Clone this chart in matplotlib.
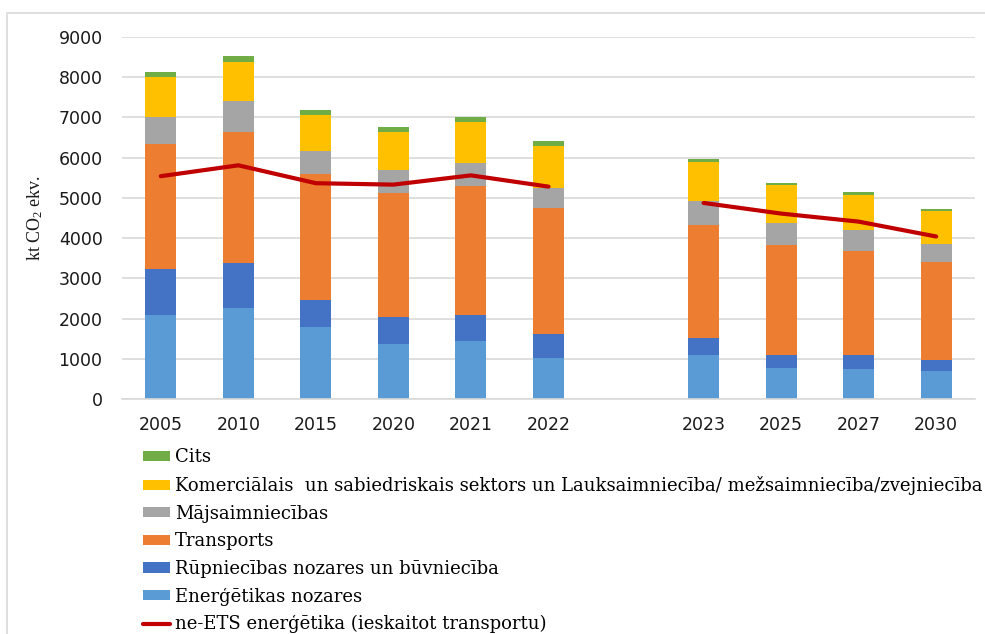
import matplotlib
matplotlib.use("Agg")
import matplotlib.pyplot as plt
from matplotlib.patches import Rectangle
import numpy as np

years = ["2005", "2010", "2015", "2020", "2021", "2022", "", "2023", "2025", "2027", "2030"]

# kt CO2 ekv. per sector (blank slot between 2022 and 2023)
energetika = [2080, 2256, 1785, 1355, 1438, 1008, np.nan, 1083, 775, 733, 700]
rupnieciba = [1160, 1116, 686, 686, 645, 604, np.nan, 434, 308, 350, 258]
transports = [3100, 3264, 3132, 3091, 3215, 3132, np.nan, 2816, 2734, 2600, 2459]
majsaimn = [680, 769, 562, 562, 562, 512, np.nan, 600, 558, 525, 433]
komerc = [990, 983, 893, 942, 1033, 1033, np.nan, 959, 950, 859, 825]
cits = [130, 133, 132, 124, 124, 132, np.nan, 83, 50, 91, 42]
ne_ets = [5540, 5810, 5365, 5330, 5560, 5280, np.nan, 4875, 4610, 4410, 4040]

series = [
    ("Enerģētikas nozares", energetika, "#5b9bd5"),
    ("Rūpniecības nozares un būvniecība", rupnieciba, "#4472c4"),
    ("Transports", transports, "#ed7d31"),
    ("Mājsaimniecības", majsaimn, "#a5a5a5"),
    ("Komerciālais  un sabiedriskais sektors un Lauksaimniecība/ mežsaimniecība/zvejniecība", komerc, "#ffc000"),
    ("Cits", cits, "#70ad47"),
]

plt.rcParams["mathtext.default"] = "regular"

fig = plt.figure(figsize=(9.85, 6.34), dpi=100)
ax = fig.add_axes([0.1239, 0.3707, 0.8659, 0.5709])

x = np.arange(len(years))
bottom = np.zeros(len(years))
handles = []
for label, vals, color in series:
    v = np.nan_to_num(np.array(vals, dtype=float))
    b = ax.bar(x, v, 0.4, bottom=bottom, color=color, label=label, zorder=2)
    handles.append(b)
    bottom += v

ln, = ax.plot(x[:6], ne_ets[:6], color="#c00000", lw=3, zorder=3, solid_capstyle="round",
              label="ne-ETS enerģētika (ieskaitot transportu)")
ax.plot(x[7:], ne_ets[7:], color="#c00000", lw=3, zorder=3, solid_capstyle="round")

ax.set_xlim(-0.5, len(years) - 0.5)
ax.set_ylim(0, 9000)
ax.set_yticks(np.arange(0, 9001, 1000))
ax.set_xticks([i for i in x if years[i]])
ax.set_xticklabels([y for y in years if y])
ax.grid(axis="y", color="#d9d9d9", lw=1.2, zorder=0)
ax.tick_params(length=0, labelsize=12.5, colors="#1a1a1a")
ax.tick_params(axis="x", pad=12)
ax.tick_params(axis="y", pad=14)
for s in ["top", "right", "left"]:
    ax.spines[s].set_visible(False)
ax.spines["bottom"].set_color("#d9d9d9")
ax.spines["bottom"].set_linewidth(1.2)

fig.text(0.036, 0.656, "kt CO$_2$ ekv.", rotation=90, family="Liberation Serif",
         fontsize=13, va="center", ha="center", color="#1a1a1a")

leg_handles = handles[::-1] + [ln]
leg = fig.legend(leg_handles, [h.get_label() for h in leg_handles],
                 loc="upper left", bbox_to_anchor=(0.138, 0.304), frameon=False,
                 prop={"family": "DejaVu Serif", "size": 13},
                 handlelength=1.5, handleheight=0.5, handletextpad=0.25,
                 labelspacing=0.53, borderaxespad=0)

fig.patches.append(Rectangle((7 / 985, -0.1), 1.1, 1 - 13 / 634 + 0.1,
                             transform=fig.transFigure, fill=False,
                             edgecolor="#d9d9d9", lw=1.2))

fig.savefig("out.png", dpi=100)
